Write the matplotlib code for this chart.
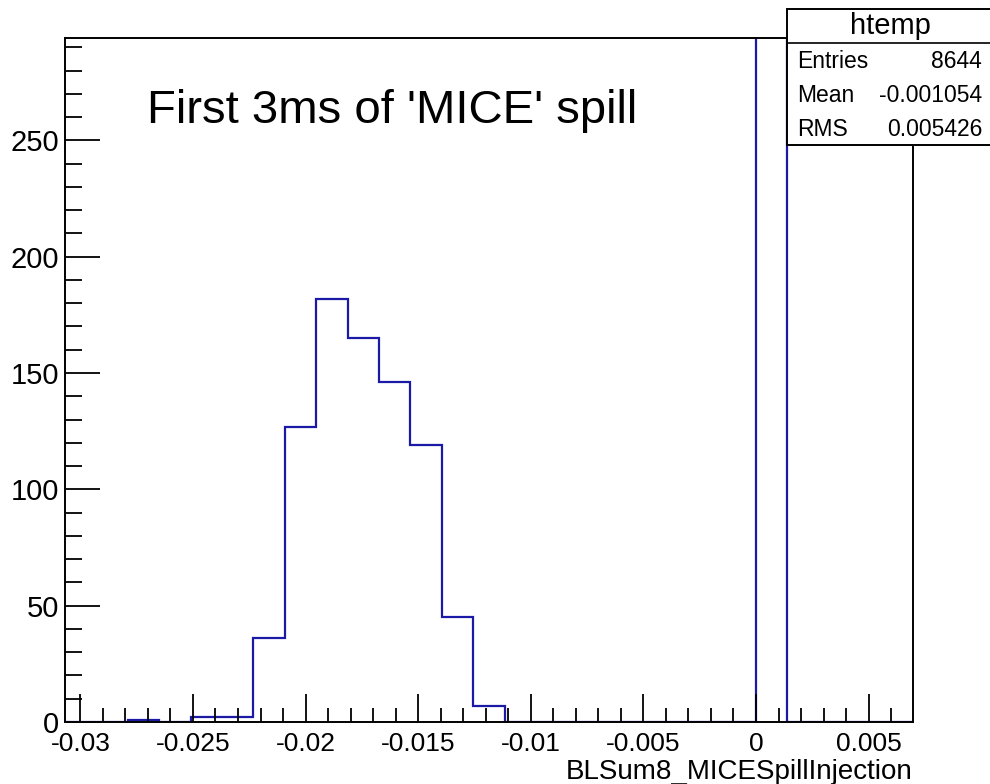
import matplotlib
matplotlib.use("Agg")
from matplotlib import pyplot as plt
from matplotlib.ticker import MultipleLocator
import numpy as np

plt.rcParams['font.family'] = ['Liberation Sans', 'DejaVu Sans']

# histogram contents (27 bins)
x_min = -0.03068
x_max = 0.00697
counts = [0, 0, 1, 0, 2, 2, 36, 127, 182, 165, 146, 119, 45, 7,
          0, 0, 0, 0, 0, 0, 0, 0, 7812, 0, 0, 0, 0]
edges = np.linspace(x_min, x_max, len(counts) + 1)

stat_names = ['Entries', 'Mean', 'RMS']
stat_vals = ['8644', '-0.001054', '0.005426']

fig = plt.figure(figsize=(9.9, 7.84), dpi=100)
ax = fig.add_axes([0.0657, 0.0791, 0.8565, 0.8724])

ax.stairs(counts, edges, color='#1a1aa6', linewidth=1.6, baseline=0)
ax.set_xlim(x_min, x_max)
ax.set_ylim(0, 294)

ax.xaxis.set_major_locator(MultipleLocator(0.005))
ax.xaxis.set_minor_locator(MultipleLocator(0.001))
ax.yaxis.set_major_locator(MultipleLocator(50))
ax.yaxis.set_minor_locator(MultipleLocator(10))
ax.set_xticks([-0.03, -0.025, -0.02, -0.015, -0.01, -0.005, 0, 0.005])
ax.set_xticklabels(['-0.03', '-0.025', '-0.02', '-0.015', '-0.01', '-0.005', '0', '0.005'])
ax.tick_params(which='both', direction='in', top=False, right=False, colors='black', width=1.3)
ax.tick_params(axis='x', which='major', length=20, pad=7.5, labelsize=19)
ax.tick_params(axis='x', which='minor', length=10)
ax.tick_params(axis='y', which='major', length=25, pad=4, labelsize=21)
ax.tick_params(axis='y', which='minor', length=12)
for s in ax.spines.values():
    s.set_linewidth(1.4)

ax.set_xlabel('BLSum8_MICESpillInjection', fontsize=20, loc='right', labelpad=2)

fig.text(147 / 990, 1 - 123 / 784, "First 3ms of 'MICE' spill", fontsize=34,
         ha='left', va='baseline')

# stats box
bx0, bx1 = 786.5 / 990, 1.005
by_top, by_sep, by_bot = 1 - 9 / 784, 1 - 43 / 784, 1 - 145 / 784
box = plt.Rectangle((bx0, by_bot), bx1 - bx0, by_top - by_bot, transform=fig.transFigure,
                    facecolor='white', edgecolor='black', linewidth=1.4, clip_on=False)
fig.add_artist(box)
fig.add_artist(plt.Line2D([bx0, bx1], [by_sep, by_sep], transform=fig.transFigure,
                          color='black', linewidth=1.2))
fig.text((bx0 + bx1) / 2, 1 - 26 / 784, 'htemp', fontsize=21, ha='center', va='center')
for i, (n, v) in enumerate(zip(stat_names, stat_vals)):
    yy = 1 - (61 + 34 * i) / 784
    fig.text(797 / 990, yy, n, fontsize=16.5, ha='left', va='center')
    fig.text(982 / 990, yy, v, fontsize=16.5, ha='right', va='center')

fig.savefig('out.png', dpi=100)
